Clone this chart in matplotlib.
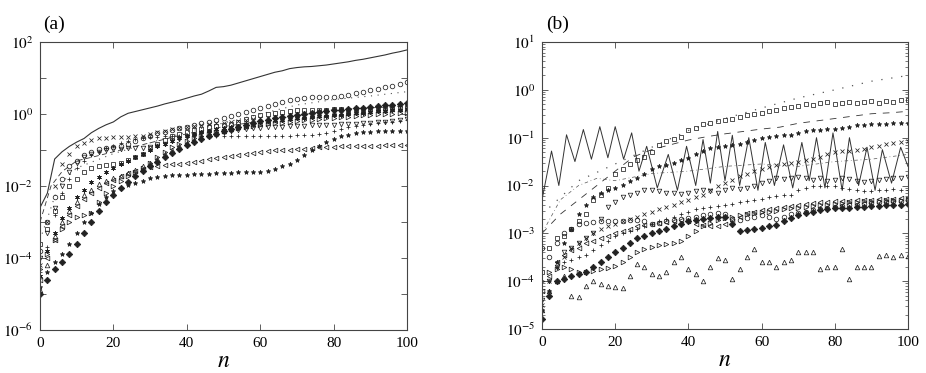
"""Two log-scale panels of per-step quantities against n, drawn as open-marker series."""

from __future__ import annotations

import matplotlib

matplotlib.use("Agg")
import matplotlib.pyplot as plt
import numpy as np
from matplotlib.ticker import FixedLocator, FuncFormatter, LogLocator, NullLocator

plt.rcParams["font.family"] = "serif"
plt.rcParams["font.serif"] = ["Liberation Serif", "DejaVu Serif"]
plt.rcParams["mathtext.fontset"] = "stix"

# n grid used by the marker series (every second step)
N_GRID = list(range(0, 101, 2))

# ---- panel (a): log10 of the plotted values -------------------------------
A_SOLID = [-2.6, -2.2, -1.25, -1.05, -0.9, -0.78, -0.68, -0.52, -0.4, -0.3,
           -0.22, -0.08, 0.02, 0.07, 0.12, 0.17, 0.22, 0.28, 0.33, 0.38,
           0.44, 0.5, 0.55, 0.64, 0.74, 0.76, 0.8, 0.86, 0.92, 0.98,
           1.04, 1.1, 1.16, 1.2, 1.26, 1.29, 1.31, 1.32, 1.34, 1.36,
           1.39, 1.42, 1.45, 1.49, 1.52, 1.56, 1.6, 1.64, 1.69, 1.73,
           1.78]
A_CIRCLE = [-3.8, -3.0, -2.3, -1.8, -1.45, -1.3, -1.15, -1.05, -0.98, -0.95,
            -0.92, -0.88, -0.82, -0.75, -0.68, -0.6, -0.54, -0.49, -0.45, -0.4,
            -0.35, -0.3, -0.26, -0.21, -0.16, -0.12, -0.06, 0.0, 0.06, 0.12,
            0.17, 0.22, 0.28, 0.34, 0.4, 0.43, 0.45, 0.46, 0.46, 0.47,
            0.48, 0.51, 0.54, 0.58, 0.62, 0.66, 0.7, 0.74, 0.79, 0.84,
            0.9]
A_CROSS = [-4.2, -3.0, -2.0, -1.4, -1.1, -0.9, -0.8, -0.72, -0.68, -0.66,
           -0.65, -0.64, -0.63, -0.62, -0.6, -0.55, -0.5, -0.46, -0.42, -0.38,
           -0.35, -0.32, -0.3, -0.28, -0.26, -0.25, -0.23, -0.2, -0.17, -0.15,
           -0.12, -0.1, -0.07, -0.05, -0.03, 0.0, 0.02, 0.03, 0.05, 0.07,
           0.08, 0.1, 0.12, 0.14, 0.15, 0.17, 0.18, 0.2, 0.22, 0.24,
           0.26]
A_SQUARE = [-3.6, -3.2, -2.7, -2.3, -2.0, -1.8, -1.6, -1.5, -1.45, -1.42,
            -1.4, -1.35, -1.28, -1.2, -1.1, -0.95, -0.82, -0.72, -0.62, -0.55,
            -0.5, -0.45, -0.41, -0.37, -0.33, -0.3, -0.27, -0.22, -0.15, -0.08,
            -0.03, 0.0, 0.03, 0.06, 0.08, 0.1, 0.11, 0.11, 0.12, 0.12,
            0.13, 0.13, 0.12, 0.13, 0.14, 0.15, 0.15, 0.16, 0.17, 0.18,
            0.2]
A_ASTERISK = [-4.5, -3.8, -3.3, -2.9, -2.6, -2.3, -2.1, -1.9, -1.75, -1.62,
              -1.5, -1.4, -1.3, -1.2, -1.1, -1.0, -0.9, -0.82, -0.74, -0.66,
              -0.6, -0.55, -0.5, -0.46, -0.42, -0.38, -0.35, -0.32, -0.28, -0.25,
              -0.22, -0.2, -0.18, -0.16, -0.14, -0.12, -0.1, -0.08, -0.06, -0.05,
              -0.03, -0.02, 0.0, 0.02, 0.04, 0.05, 0.07, 0.08, 0.1, 0.11,
              0.13]
A_TRI_DOWN = [-4.0, -3.3, -2.6, -2.0, -1.6, -1.35, -1.2, -1.1, -1.05, -1.0,
              -0.98, -0.96, -0.95, -0.95, -0.94, -0.92, -0.88, -0.82, -0.76, -0.7,
              -0.65, -0.6, -0.55, -0.52, -0.5, -0.48, -0.46, -0.44, -0.42, -0.4,
              -0.38, -0.37, -0.36, -0.35, -0.34, -0.33, -0.32, -0.31, -0.3, -0.3,
              -0.3, -0.29, -0.28, -0.27, -0.26, -0.25, -0.23, -0.21, -0.19, -0.17,
              -0.15]
A_PLUS = [-4.4, -3.7, -2.8, -2.2, -1.8, -1.5, -1.3, -1.15, -1.05, -0.95,
          -0.88, -0.8, -0.74, -0.7, -0.67, -0.65, -0.63, -0.62, -0.62, -0.62,
          -0.62, -0.62, -0.62, -0.62, -0.62, -0.62, -0.62, -0.62, -0.62, -0.62,
          -0.62, -0.61, -0.61, -0.6, -0.6, -0.59, -0.58, -0.57, -0.55, -0.52,
          -0.47, -0.42, -0.37, -0.33, -0.3, -0.27, -0.25, -0.23, -0.21, -0.19,
          -0.17]
A_TRI_LEFT = [-4.6, -4.0, -3.5, -3.1, -2.8, -2.55, -2.35, -2.2, -2.05, -1.92,
              -1.82, -1.72, -1.64, -1.57, -1.52, -1.48, -1.45, -1.42, -1.4, -1.38,
              -1.36, -1.34, -1.3, -1.26, -1.22, -1.19, -1.16, -1.13, -1.1, -1.07,
              -1.05, -1.03, -1.01, -1.0, -0.99, -0.98, -0.97, -0.95, -0.93, -0.92,
              -0.91, -0.9, -0.9, -0.89, -0.89, -0.88, -0.88, -0.87, -0.87, -0.86,
              -0.86]
A_STAR = [-4.8, -4.4, -4.1, -3.9, -3.6, -3.3, -3.0, -2.75, -2.5, -2.3,
          -2.15, -2.05, -1.98, -1.92, -1.85, -1.78, -1.74, -1.72, -1.7, -1.7,
          -1.69, -1.68, -1.67, -1.66, -1.65, -1.64, -1.63, -1.6, -1.62, -1.6,
          -1.6, -1.57, -1.52, -1.45, -1.38, -1.28, -1.15, -1.0, -0.88, -0.78,
          -0.7, -0.62, -0.57, -0.53, -0.5, -0.49, -0.48, -0.48, -0.47, -0.47,
          -0.47]
A_TRI_RIGHT = [-4.3, -3.9, -3.5, -3.2, -3.0, -2.85, -2.8, -2.75, -2.45, -2.2,
               -2.0, -1.85, -1.72, -1.62, -1.5, -1.35, -1.2, -1.05, -0.92, -0.82,
               -0.74, -0.67, -0.6, -0.55, -0.5, -0.47, -0.43, -0.4, -0.37, -0.34,
               -0.31, -0.28, -0.26, -0.24, -0.22, -0.2, -0.18, -0.16, -0.14, -0.12,
               -0.1, -0.08, -0.07, -0.05, -0.04, -0.02, -0.01, 0.0, 0.01, 0.02,
               0.03]
A_TRI_UP = [-4.9, -4.2, -3.4, -3.0, -2.7, -2.45, -2.25, -2.1, -1.95, -1.85,
            -1.78, -1.72, -1.65, -1.55, -1.45, -1.35, -1.25, -1.12, -1.0, -0.9,
            -0.8, -0.72, -0.65, -0.58, -0.52, -0.46, -0.41, -0.36, -0.32, -0.28,
            -0.24, -0.2, -0.17, -0.14, -0.11, -0.08, -0.06, -0.04, -0.02, 0.0,
            0.02, 0.03, 0.05, 0.06, 0.08, 0.09, 0.1, 0.12, 0.13, 0.14,
            0.16]
A_DIAMOND = [-5.0, -4.6, -4.3, -4.1, -3.9, -3.6, -3.3, -3.0, -2.7, -2.45,
             -2.25, -2.05, -1.88, -1.72, -1.58, -1.45, -1.32, -1.2, -1.08, -0.97,
             -0.87, -0.78, -0.7, -0.62, -0.55, -0.48, -0.42, -0.36, -0.3, -0.24,
             -0.2, -0.16, -0.12, -0.08, -0.05, -0.02, 0.0, 0.03, 0.05, 0.08,
             0.1, 0.12, 0.14, 0.16, 0.18, 0.2, 0.22, 0.24, 0.26, 0.28,
             0.3]
A_DASH_N = [0, 3, 6, 10, 15, 20, 30, 40, 50, 60, 70, 80, 90, 100]
A_DASH = [-3.0, -2.0, -1.6, -1.3, -1.18, -1.05, -0.8, -0.55, -0.35, -0.2, -0.05, 0.12, 0.17, 0.22]
A_DOT_N = [0, 5, 10, 20, 30, 40, 50, 60, 70, 80, 90, 100]
A_DOT = [-3.5, -2.0, -1.5, -1.1, -0.8, -0.5, -0.25, 0.0, 0.25, 0.4, 0.5, 0.62]

# ---- panel (b): log10 of the plotted values -------------------------------
B_SOLID_N = [0, 2.6, 4.6, 6.7, 9, 11.3, 13.5, 15.8, 18, 20,
             22.3, 24.5, 26.5, 28.6, 31.5, 34.5, 37, 39.5, 42, 44,
             46, 48, 50, 52, 54, 56.5, 59, 61, 63.5, 66,
             68.5, 71, 73, 75, 77.3, 79.5, 82, 84, 86.5, 88.8,
             91, 93, 95.5, 98, 100]
B_SOLID = [-2.3, -1.28, -2.0, -0.94, -1.5, -0.83, -1.45, -0.77, -1.42, -0.77,
           -1.45, -0.9, -1.7, -1.18, -2.05, -1.35, -2.1, -1.18, -2.0, -1.04,
           -1.95, -0.87, -1.9, -0.95, -2.0, -1.0, -2.1, -1.1, -2.0, -1.15,
           -2.05, -1.1, -1.9, -1.0, -2.05, -0.9, -2.1, -1.0, -2.0, -1.2,
           -2.1, -1.25, -1.95, -1.2, -1.6]
B_DOT_N = [0, 10, 20, 30, 40, 50, 60, 70, 80, 90, 100]
B_DOT = [-2.6, -1.9, -1.55, -1.2, -0.85, -0.6, -0.38, -0.17, 0.0, 0.18, 0.3]
B_DASH_N = [0, 5, 10, 15, 20, 25, 30, 35, 40, 45, 50, 55, 60, 65, 70, 75, 80, 85, 90, 95, 100]
B_DASH = [-3.0, -2.6, -2.3, -2.0, -1.7, -1.4, -1.25, -1.15, -1.05, -0.98, -0.92,
          -0.87, -0.82, -0.78, -0.7, -0.65, -0.6, -0.55, -0.5, -0.48, -0.45]
B_DASHDOT_N = [0, 5, 10, 15, 20, 30, 40, 50, 60, 70, 80, 90, 100]
B_DASHDOT = [-3.0, -2.3, -2.0, -1.85, -1.9, -1.75, -1.7, -1.6, -1.55, -1.6, -1.5, -1.45, -1.35]
B_SQUARE = [-3.8, -3.3, -3.1, -3.05, -2.9, -2.75, -2.6, -2.3, -2.2, -2.05,
            -1.75, -1.65, -1.55, -1.46, -1.4, -1.3, -1.15, -1.08, -1.02, -0.98,
            -0.85, -0.8, -0.72, -0.7, -0.66, -0.63, -0.6, -0.57, -0.52, -0.5,
            -0.48, -0.45, -0.42, -0.38, -0.36, -0.33, -0.3, -0.32, -0.28, -0.26,
            -0.3, -0.27, -0.25, -0.28, -0.26, -0.24, -0.27, -0.23, -0.25, -0.22,
            -0.22]
B_ASTERISK = [-4.6, -4.2, -3.6, -3.2, -2.9, -2.6, -2.4, -2.25, -2.15, -2.1,
              -2.05, -1.98, -1.9, -1.85, -1.75, -1.65, -1.6, -1.58, -1.52, -1.47,
              -1.42, -1.35, -1.28, -1.22, -1.2, -1.18, -1.16, -1.14, -1.1, -1.05,
              -1.0, -0.98, -0.97, -0.95, -0.95, -0.9, -0.87, -0.84, -0.83, -0.82,
              -0.82, -0.8, -0.77, -0.74, -0.73, -0.72, -0.71, -0.72, -0.7, -0.69,
              -0.7]
B_CROSS = [-4.5, -4.0, -3.7, -3.5, -3.3, -3.2, -3.1, -3.0, -2.9, -2.85,
           -2.8, -2.75, -2.7, -2.65, -2.6, -2.55, -2.5, -2.45, -2.4, -2.35,
           -2.3, -2.25, -2.2, -2.1, -2.0, -1.95, -1.88, -1.8, -1.75, -1.7,
           -1.65, -1.62, -1.58, -1.55, -1.52, -1.5, -1.47, -1.44, -1.4, -1.35,
           -1.3, -1.28, -1.27, -1.25, -1.23, -1.2, -1.17, -1.14, -1.12, -1.1,
           -1.08]
B_TRI_DOWN = [-4.4, -4.0, -3.7, -3.4, -3.3, -3.2, -3.1, -3.0, -2.7, -2.45,
              -2.35, -2.25, -2.2, -2.15, -2.1, -2.1, -2.12, -2.15, -2.15, -2.17,
              -2.15, -2.12, -2.1, -2.12, -2.15, -2.1, -2.05, -2.08, -2.05, -2.0,
              -1.95, -1.9, -1.85, -1.87, -1.85, -1.82, -1.85, -1.88, -1.85, -1.9,
              -1.88, -1.85, -1.87, -1.9, -1.92, -1.9, -1.88, -1.87, -1.85, -1.85,
              -1.83]
B_PLUS = [-4.6, -4.0, -3.7, -3.6, -3.55, -3.5, -3.45, -3.35, -3.25, -3.15,
          -3.05, -3.0, -2.95, -2.9, -2.85, -2.8, -2.75, -2.7, -2.65, -2.6,
          -2.55, -2.5, -2.48, -2.45, -2.42, -2.4, -2.38, -2.35, -2.32, -2.3,
          -2.28, -2.25, -2.22, -2.2, -2.2, -2.1, -2.05, -2.02, -2.0, -2.0,
          -2.02, -2.05, -2.08, -2.1, -2.12, -2.12, -2.1, -2.1, -2.08, -2.1,
          -2.1]
B_CIRCLE = [-3.3, -3.5, -3.2, -3.0, -2.9, -2.8, -2.78, -2.76, -2.75, -2.74,
            -2.74, -2.74, -2.72, -2.72, -2.75, -2.8, -2.78, -2.75, -2.72, -2.7,
            -2.68, -2.65, -2.62, -2.6, -2.58, -2.6, -2.7, -2.72, -2.68, -2.65,
            -2.62, -2.66, -2.7, -2.65, -2.6, -2.58, -2.55, -2.52, -2.5, -2.48,
            -2.45, -2.42, -2.4, -2.4, -2.38, -2.36, -2.35, -2.34, -2.33, -2.32,
            -2.3]
B_DIAMOND = [-4.8, -4.3, -4.0, -3.95, -3.9, -3.85, -3.8, -3.7, -3.6, -3.5,
             -3.4, -3.3, -3.2, -3.1, -3.05, -3.0, -2.95, -2.9, -2.85, -2.8,
             -2.75, -2.72, -2.7, -2.68, -2.66, -2.65, -2.8, -2.95, -2.92, -2.9,
             -2.88, -2.85, -2.82, -2.75, -2.68, -2.62, -2.58, -2.55, -2.52, -2.5,
             -2.48, -2.47, -2.46, -2.45, -2.44, -2.43, -2.42, -2.41, -2.4, -2.4,
             -2.38]
B_TRI_RIGHT = [-4.0, -3.8, -3.75, -3.7, -3.75, -3.8, -3.8, -3.78, -3.75, -3.72,
               -3.68, -3.6, -3.5, -3.4, -3.32, -3.28, -3.25, -3.22, -3.2, -3.15,
               -3.05, -2.95, -2.85, -2.78, -2.72, -2.68, -2.65, -2.62, -2.6, -2.58,
               -2.56, -2.55, -2.53, -2.5, -2.48, -2.46, -2.44, -2.42, -2.4, -2.4,
               -2.38, -2.36, -2.35, -2.34, -2.33, -2.32, -2.32, -2.31, -2.3, -2.3,
               -2.28]
B_TRI_LEFT = [-4.2, -3.9, -3.6, -3.45, -3.35, -3.3, -3.2, -3.15, -3.1, -3.05,
              -3.0, -2.95, -2.9, -2.85, -2.82, -2.8, -2.78, -2.76, -2.74, -2.72,
              -2.75, -2.8, -2.82, -2.84, -2.85, -2.8, -2.75, -2.65, -2.58, -2.55,
              -2.52, -2.5, -2.48, -2.45, -2.42, -2.4, -2.38, -2.36, -2.35, -2.34,
              -2.33, -2.32, -2.32, -2.31, -2.3, -2.3, -2.29, -2.29, -2.28, -2.27,
              -2.27]
B_TRI_UP = [-4.6, -4.2, -4.0, -3.9, -4.3, -4.33, -4.1, -4.0, -4.05, -4.1,
            -4.12, -4.15, -3.9, -3.65, -3.7, -3.85, -3.9, -3.8, -3.6, -3.5,
            -3.75, -3.85, -4.0, -3.7, -3.52, -3.55, -3.95, -3.75, -3.5, -3.33,
            -3.6, -3.6, -3.7, -3.6, -3.55, -3.4, -3.4, -3.4, -3.75, -3.7,
            -3.7, -3.33, -3.95, -3.7, -3.7, -3.7, -3.47, -3.45, -3.5, -3.45,
            -3.48]

INK = "#222222"
ASTERISK = (6, 2, 0)

# marker series: (values, marker, filled)
A_MARKERS = [
    (A_CIRCLE, "o", False),
    (A_CROSS, "x", False),
    (A_SQUARE, "s", False),
    (A_ASTERISK, ASTERISK, False),
    (A_TRI_DOWN, "v", False),
    (A_PLUS, "+", False),
    (A_TRI_LEFT, "<", False),
    (A_STAR, "*", True),
    (A_TRI_RIGHT, ">", False),
    (A_TRI_UP, "^", False),
    (A_DIAMOND, "D", True),
]
B_MARKERS = [
    (B_SQUARE, "s", False),
    (B_ASTERISK, "*", True),
    (B_CROSS, "x", False),
    (B_TRI_DOWN, "v", False),
    (B_PLUS, "+", False),
    (B_CIRCLE, "o", False),
    (B_DIAMOND, "D", True),
    (B_TRI_RIGHT, ">", False),
    (B_TRI_LEFT, "<", False),
    (B_TRI_UP, "^", False),
]


def _pow10(values: list[float]) -> np.ndarray:
    return np.power(10.0, np.asarray(values, dtype=float))


def _plot_markers(axis, series) -> None:
    for values, marker, filled in series:
        axis.plot(
            N_GRID,
            _pow10(values),
            linestyle="none",
            marker=marker,
            markersize=3.3,
            markeredgewidth=0.55,
            markeredgecolor=INK,
            markerfacecolor=INK if filled else "none",
        )


def _plot_line(axis, n_values, values, style, width=0.7, color="#333333") -> None:
    axis.plot(n_values, _pow10(values), linestyle=style, linewidth=width, color=color)


def _style_axis(axis, low_exp: int, high_exp: int, label_every: int, minor: bool) -> None:
    axis.set_yscale("log")
    axis.set_xlim(0, 100)
    axis.set_ylim(10.0 ** low_exp, 10.0 ** high_exp)
    axis.set_xticks([0, 20, 40, 60, 80, 100])
    axis.yaxis.set_major_locator(FixedLocator([10.0 ** e for e in range(low_exp, high_exp + 1)]))

    def fmt(value, _pos):
        exp = int(round(np.log10(value)))
        if (exp - low_exp) % label_every:
            return ""
        return r"$10^{%d}$" % exp

    axis.yaxis.set_major_formatter(FuncFormatter(fmt))
    if minor:
        axis.yaxis.set_minor_locator(LogLocator(base=10, subs=np.arange(2, 10), numticks=20))
    else:
        axis.yaxis.set_minor_locator(NullLocator())
    axis.tick_params(which="both", direction="in", top=True, right=True, colors="#444444",
                     labelcolor="black", labelsize=11)
    axis.tick_params(which="major", length=4, width=0.6, pad=5)
    axis.tick_params(which="minor", length=2, width=0.5)
    for spine in axis.spines.values():
        spine.set_linewidth(0.8)
        spine.set_color("#444444")
    axis.set_xlabel("$n$", fontsize=17, labelpad=1)


def main() -> None:
    fig = plt.figure(figsize=(9.26, 3.73), dpi=100)
    ax_a = fig.add_axes([40 / 926, 43 / 373, 367 / 926, 288 / 373])
    ax_b = fig.add_axes([542 / 926, 44 / 373, 366 / 926, 287 / 373])

    # panel (a)
    _plot_line(ax_a, N_GRID, A_SOLID, "-", width=0.8)
    _plot_line(ax_a, A_DASH_N, A_DASH, (0, (6, 4)), width=0.6)
    _plot_line(ax_a, A_DOT_N, A_DOT, (0, (1, 5)), width=0.8, color="#555555")
    _plot_markers(ax_a, A_MARKERS)
    _style_axis(ax_a, -6, 2, 2, minor=False)

    # panel (b)
    _plot_line(ax_b, B_SOLID_N, B_SOLID, "-", width=0.7)
    _plot_line(ax_b, B_DOT_N, B_DOT, (0, (1, 7)), width=0.9, color="#555555")
    _plot_line(ax_b, B_DASH_N, B_DASH, (0, (8, 8)), width=0.6)
    _plot_line(ax_b, B_DASHDOT_N, B_DASHDOT, (0, (5, 4, 1, 4)), width=0.5, color="#555555")
    _plot_markers(ax_b, B_MARKERS)
    _style_axis(ax_b, -5, 1, 1, minor=True)

    fig.text(43 / 926, 1 - 24 / 373, "(a)", fontsize=14, va="center", ha="left")
    fig.text(546 / 926, 1 - 24 / 373, "(b)", fontsize=14, va="center", ha="left")

    fig.savefig("out.png", dpi=100)
    plt.close(fig)


if __name__ == "__main__":
    main()
